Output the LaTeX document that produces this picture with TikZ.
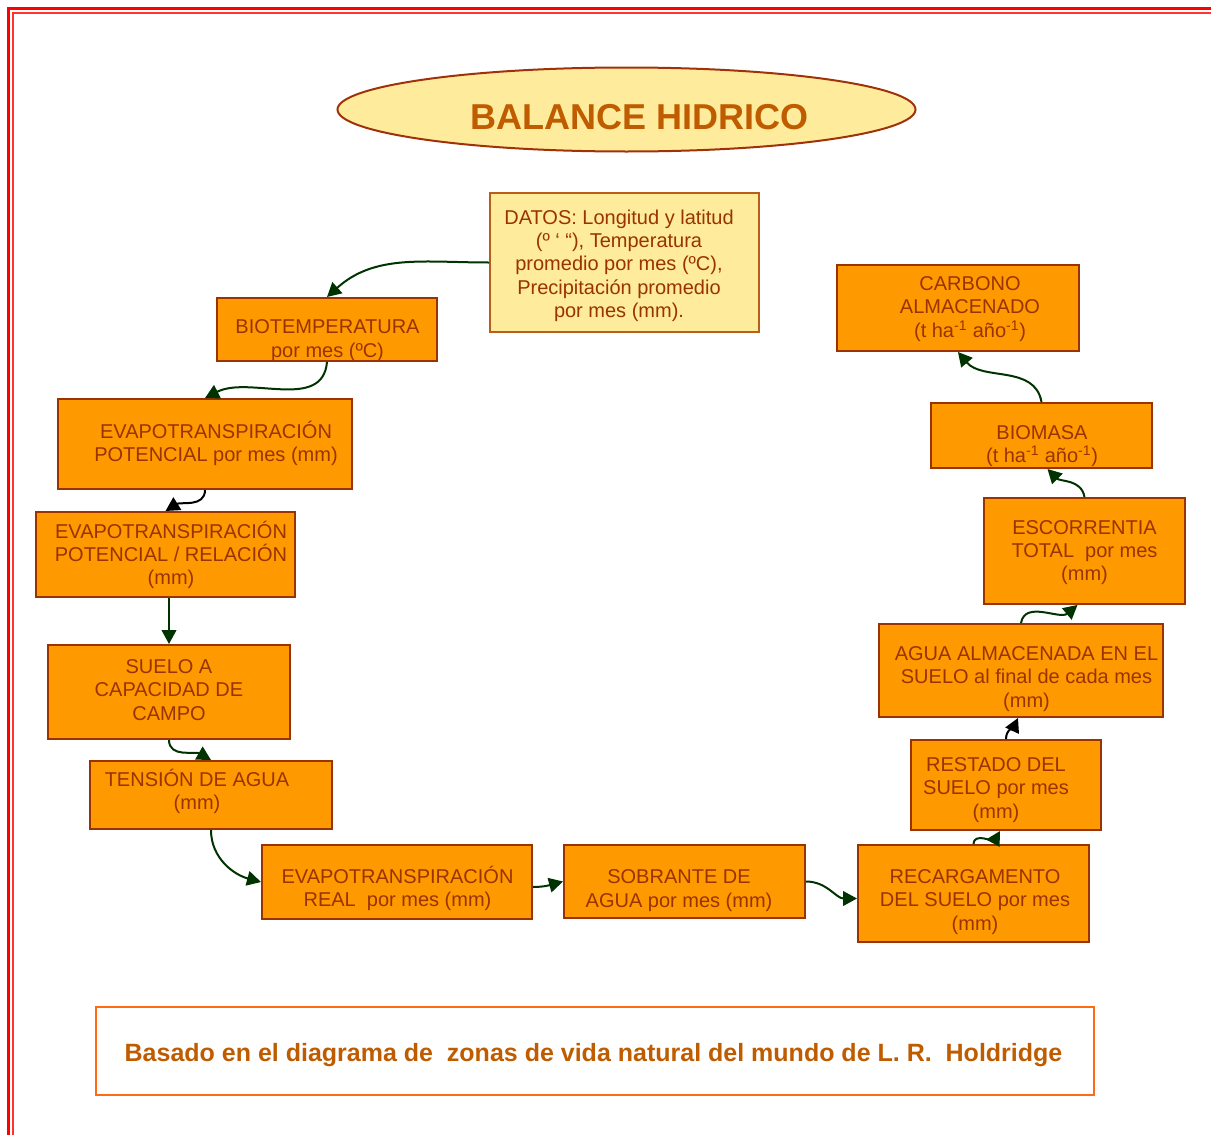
\documentclass[tikz,border=0pt]{standalone}
\usepackage{fontspec}
\setmainfont{Liberation Sans}
\usetikzlibrary{arrows.meta,shapes.geometric,fit,calc}

\definecolor{boxfill}{HTML}{FF9900}
\definecolor{boxline}{HTML}{993300}
\definecolor{boxink}{HTML}{993300}
\definecolor{paleyellow}{HTML}{FFEB9C}
\definecolor{datosline}{HTML}{B8601A}
\definecolor{titleline}{HTML}{A0320A}
\definecolor{titleink}{HTML}{C05C00}
\definecolor{arrowgreen}{HTML}{003300}
\definecolor{footline}{HTML}{FF6A13}

\begin{document}
\begin{tikzpicture}[x=0.75pt,y=-0.75pt,
  stagebox/.style={rectangle, draw=boxline, fill=boxfill, line width=1.5pt, inner sep=0pt},
  txt/.style={text=boxink, align=center, inner sep=0pt, font=\fontsize{15}{17.5}\selectfont},
  flow/.style={draw=arrowgreen, line width=1.5pt, -{Triangle[length=10.5pt,width=11pt]}},
  flowblack/.style={flow, draw=black},
]
\useasboundingbox (0,0) rectangle (1211,1135);

% page frame: double red rule along the top and left edges
\draw[red, line width=2pt] (8.7,1140) -- (8.7,8.7) -- (1215,8.7);
\draw[red!80, line width=1.6pt] (12.8,1140) -- (12.8,12.8) -- (1215,12.8);

% title
\node[ellipse, draw=titleline, fill=paleyellow, line width=1.5pt, inner sep=0pt,
      minimum width=433.5pt, minimum height=63pt] (title) at (626.5,109.5) {};
\node[text=titleink, inner sep=0pt, font=\bfseries\fontsize{27}{30}\selectfont]
      (titletxt) at (639.5,117) {BALANCE HIDRICO};

% input data
\node[rectangle, draw=datosline, fill=paleyellow, line width=1.5pt, inner sep=0pt,
      fit={(490,193) (759,332)}] (datos) {};
\node[txt] (datostxt) at (619,265.5) {DATOS: Longitud y latitud\\(º ‘ “), Temperatura\\promedio por mes (ºC),\\Precipitación promedio\\por mes (mm).};

% stage boxes
\node[stagebox, fit={(217,298) (437,361)}] (bio) {};
\node[stagebox, fit={(58,399) (352,489)}] (etp) {};
\node[stagebox, fit={(36,512) (295,597)}] (rel) {};
\node[stagebox, fit={(48,645) (290,739)}] (suelo) {};
\node[stagebox, fit={(90,761) (332,829)}] (tension) {};
\node[stagebox, fit={(262,845) (532,919)}] (real) {};
\node[stagebox, fit={(564,845) (805,918)}] (sobr) {};
\node[stagebox, fit={(858,845) (1089,942)}] (recarg) {};
\node[stagebox, fit={(911,740) (1101,830)}] (restado) {};
\node[stagebox, fit={(879,624) (1163,717)}] (agua) {};
\node[stagebox, fit={(984,498) (1185,604)}] (escorr) {};
\node[stagebox, fit={(931,403) (1152,468)}] (biomasa) {};
\node[stagebox, fit={(837,265) (1079,351)}] (carbono) {};

% stage labels
\node[txt] (biotxt) at (327.5,340.5) {BIOTEMPERATURA\\por mes (ºC)};
\node[txt] (etptxt) at (216,443.5) {EVAPOTRANSPIRACIÓN\\POTENCIAL por mes (mm)};
\node[txt] (reltxt) at (171,555) {EVAPOTRANSPIRACIÓN\\POTENCIAL / RELACIÓN\\(mm)};
\node[txt] (suelotxt) at (169,690) {SUELO A\\CAPACIDAD DE\\CAMPO};
\node[txt] (tensiontxt) at (197,791.5) {TENSIÓN DE AGUA\\(mm)};
\node[txt] (realtxt) at (397.5,888.5) {EVAPOTRANSPIRACIÓN\\REAL~ por mes (mm)};
\node[txt] (sobrtxt) at (679,890.5) {SOBRANTE DE\\AGUA por mes (mm)};
\node[txt] (recargtxt) at (975,902) {RECARGAMENTO\\DEL SUELO por mes\\(mm)};
\node[txt] (restadotxt) at (996,790) {RESTADO DEL\\SUELO por mes\\(mm)};
\node[txt] (aguatxt) at (1026.5,679) {AGUA ALMACENADA EN EL\\SUELO al final de cada mes\\(mm)};
\node[txt] (escorrtxt) at (1084.5,552.5) {ESCORRENTIA\\TOTAL~ por mes\\(mm)};
\node[txt] (biomasatxt) at (1042,446) {BIOMASA\\(t ha\textsuperscript{-1} año\textsuperscript{-1})};
\node[txt] (carbonotxt) at (970,309) {CARBONO\\ALMACENADO\\(t ha\textsuperscript{-1} año\textsuperscript{-1})};

% connectors
\draw[flow] (datos.west) to[out=180,in=42] (bio.north);
\draw[flow] (bio.south) to[out=-95,in=27] (etp.north);
\draw[flowblack] (etp.south) to[out=-90,in=32] (rel.north);
\draw[flow] (suelo.north |- rel.south) -- (suelo.north);
\draw[flow] (suelo.south) to[out=-90,in=150] (tension.north);
\draw[flow] (tension.south) to[out=-90,in=165] (real.west);
\draw[flow] ($(real.east)+(0,5)$) to[out=0,in=195] (sobr.west);
\draw[flow] (sobr.east) to[out=0,in=180] ($(recarg.west)+(0,5)$);
\draw[flow] (recarg.north) to[out=90,in=-120] ($(restado.south)+(-6,0)$);
\draw[flowblack] (restado.north) to[out=90,in=-115] ($(agua.south)+(-3,0)$);
\draw[flow] (agua.north) to[out=80,in=-140] ($(escorr.south)+(-7,0)$);
\draw[flow] (escorr.north) to[out=100,in=-45] ($(biomasa.south)+(6,0)$);
\draw[flow] (biomasa.north) to[out=100,in=-50] (carbono.south);

% source note
\node[rectangle, draw=footline, line width=1.5pt, inner sep=0pt,
      fit={(96,1007) (1094,1095)}] (foot) {};
\node[text=titleink, inner sep=0pt, font=\bfseries\fontsize{18.75}{22}\selectfont]
      (foottxt) at (593.5,1055.5) {Basado en el diagrama de~ zonas de vida natural del mundo de L. R.~ Holdridge};
\end{tikzpicture}
\end{document}
